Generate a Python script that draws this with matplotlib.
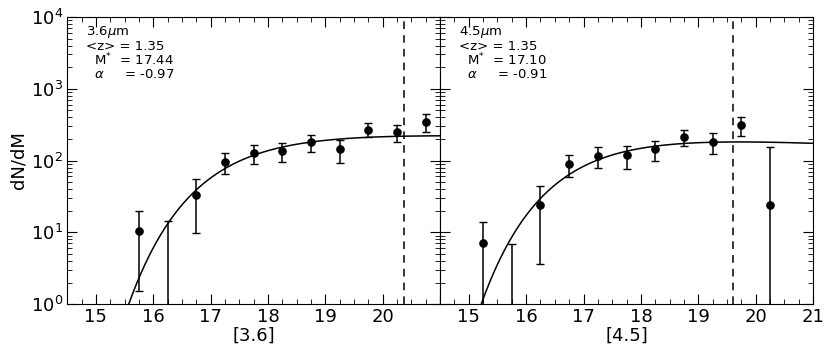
"""
Luminosity functions at <z> = 1.35 in the 3.6 and 4.5 micron bands,
with Schechter fits and the completeness limits.
"""

import numpy as np
import matplotlib.pyplot as plt

# 3.6 micron counts (bin centre, dN/dM, lower and upper error bar ends)
mag_36 = [15.75, 16.25, 16.75, 17.25, 17.75, 18.25, 18.75, 19.25, 19.75, 20.25, 20.75]
n_36 = [10.5, 0.1, 32.7, 94, 126, 136, 181, 143, 266, 250, 348]
lo_36 = [1.53, 0.01, 9.7, 64, 89, 94, 133, 93, 210, 181, 252]
hi_36 = [19.6, 14.5, 55, 126, 164, 177, 226, 193, 330, 316, 440]

# 4.5 micron counts
mag_45 = [15.25, 15.75, 16.25, 16.75, 17.25, 17.75, 18.25, 18.75, 19.25, 19.75, 20.25]
n_45 = [7.1, 0.1, 24.2, 88.5, 114, 118, 143, 212, 181, 309, 24.2]
lo_45 = [0.01, 0.01, 3.57, 59, 78, 76, 97.5, 159, 122, 219, 0.01]
hi_45 = [14.0, 6.8, 44.5, 118, 153, 158, 185, 266, 239, 400, 156]

# Schechter fit parameters (M*, alpha, phi*) and completeness limits
mstar = [17.44, 17.10]
alpha = [-0.97, -0.91]
phistar = [275., 268.]
mlim = [20.37, 19.60]

bands = ['3.6', '4.5']
mags = [mag_36, mag_45]
counts = [n_36, n_45]
lows = [lo_36, lo_45]
highs = [hi_36, hi_45]


def schechter(m, ms, a, phi):
    x = 10**(0.4*(ms - m))
    return 0.4*np.log(10)*phi * x**(a + 1) * np.exp(-x)


fig = plt.figure(figsize=(8.3, 3.46), dpi=100)
fig.subplots_adjust(left=0.081, right=0.9795, bottom=0.121, top=0.951, wspace=0)
axes = fig.subplots(1, 2, sharey=True)

for i, ax in enumerate(axes):
    y = np.array(counts[i])
    yerr = [y - np.array(lows[i]), np.array(highs[i]) - y]
    ax.errorbar(mags[i], y, yerr=yerr, fmt='o', color='k', ms=5.2,
                elinewidth=1.1, capsize=3, capthick=1.0)

    mm = np.linspace(14.5, 21, 400)
    ax.plot(mm, schechter(mm, mstar[i], alpha[i], phistar[i]), 'k-', lw=1.1)
    ax.axvline(mlim[i], color='k', ls=(0, (5, 4)), lw=1.1)

    ax.set_yscale('log')
    ax.set_xlim(14.5, 21)
    ax.set_ylim(1, 1e4)
    ax.set_xticks([15, 16, 17, 18, 19, 20, 21])
    ax.set_xticks(np.arange(14.75, 21, 0.25), minor=True)
    ax.tick_params(which='both', direction='in', top=True, right=True,
                   labelsize=13, pad=3)
    ax.tick_params(which='major', length=7)
    ax.tick_params(which='minor', length=3.5)
    ax.set_xlabel('[' + bands[i] + ']', fontsize=13, labelpad=0)

    txt = (bands[i] + r'$\mu$m' + '\n<z> = 1.35\n  M$^{*}$  = %.2f\n  $\\alpha$     = %.2f'
           % (mstar[i], alpha[i]))
    ax.text(0.05, 0.975, txt, transform=ax.transAxes, va='top', ha='left',
            fontsize=9.5, linespacing=0.95)

axes[0].set_xticklabels(['15', '16', '17', '18', '19', '20', ''])
axes[0].set_ylabel('dN/dM', fontsize=13, labelpad=2)
axes[1].tick_params(labelleft=False)

plt.savefig('out.png', dpi=100)
